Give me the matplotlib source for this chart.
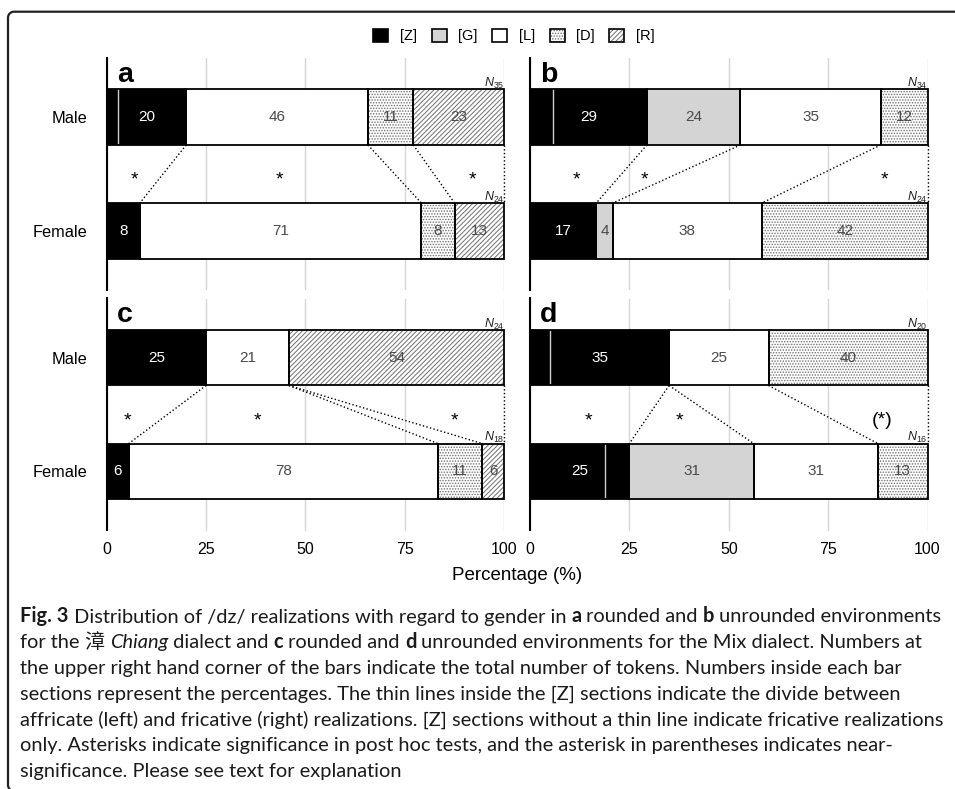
import numpy as np
import matplotlib
matplotlib.use("Agg")
import matplotlib.pyplot as plt
from matplotlib.patches import Patch
from matplotlib.lines import Line2D
from matplotlib.legend_handler import HandlerTuple
import matplotlib.transforms as mtrans

plt.rcParams['font.family'] = ['Liberation Sans', 'DejaVu Sans']
plt.rcParams['mathtext.fontset'] = 'custom'
plt.rcParams['mathtext.rm'] = 'Liberation Sans'
plt.rcParams['mathtext.it'] = 'Liberation Sans:italic'
plt.rcParams['hatch.linewidth'] = 0.7

# ---------------- data ----------------
categories = ["[Z]", "[G]", "[L]", "[D]", "[R]"]
groups = ["Male", "Female"]
panel_labels = ["a", "b", "c", "d"]

# token counts per category [Z, G, L, D, R]
a_male = [7, 0, 16, 4, 8]
a_female = [2, 0, 17, 2, 3]
b_male = [10, 8, 12, 4, 0]
b_female = [4, 1, 9, 10, 0]
c_male = [6, 0, 5, 0, 13]
c_female = [1, 0, 14, 2, 1]
d_male = [7, 0, 5, 8, 0]
d_female = [4, 5, 5, 2, 0]

# affricate tokens inside [Z] (0 = fricative only, no thin line)
affricate_male = [1, 2, 0, 1]
affricate_female = [0, 0, 0, 3]

# significance marks between the bars
sig_x = [[7, 43.5, 92], [11.6, 28.8, 89.1], [5.3, 38, 87.4], [14.8, 37.7, 88.6]]
sig_text = [["*", "*", "*"], ["*", "*", "*"], ["*", "*", "*"], ["*", "*", "(*)"]]

xticks = [0, 25, 50, 75, 100]

males = [a_male, b_male, c_male, d_male]
females = [a_female, b_female, c_female, d_female]

# ---------------- styles ----------------
face = ["black", "#d4d4d4", "white", "white", "white"]
hatches = [None, None, None, "......", "///////"]
hatch_col = "#707070"
txt_col = ["white", "#4a4a4a", "#4a4a4a", "#4a4a4a", "#4a4a4a"]

W, H = 955, 789
fig = plt.figure(figsize=(W / 100, H / 100), dpi=100)

def fx(px):
    return px / W

def fy(py):
    return 1 - py / H

ax_w = 397.5 / W
ax_h = 232 / H
lefts = [106.7, 530.0, 106.7, 530.0]
bottoms = [290.0, 290.0, 530.5, 530.5]

bar_h = 0.49
Y = {"Male": 1, "Female": 0}

for k in range(4):
    ax = fig.add_axes([fx(lefts[k]), fy(bottoms[k]), ax_w, ax_h])
    ax.set_xlim(0, 100)
    ax.set_ylim(-0.519, 1.519)
    ax.set_xticks(xticks)
    ax.grid(axis='x', color='#d6d6d6', lw=1.0)
    ax.set_axisbelow(True)
    for s in ['top', 'right', 'bottom']:
        ax.spines[s].set_visible(False)
    ax.spines['left'].set_linewidth(1.5)
    ax.spines['left'].set_color('black')
    ax.tick_params(axis='both', length=0, labelsize=11.5)
    ax.tick_params(axis='x', pad=8.4)
    ax.tick_params(axis='y', pad=14, labelsize=11.8)
    if k < 2:
        ax.set_xticklabels([])
    if k % 2 == 0:
        ax.set_yticks([Y[g] for g in groups], labels=groups)
    else:
        ax.set_yticks([Y[g] for g in groups], labels=[])

    cums = {}
    for g, counts, aff in (("Male", males[k], affricate_male[k]),
                           ("Female", females[k], affricate_female[k])):
        y = Y[g]
        N = sum(counts)
        left = 0.0
        cum = []
        for i, c in enumerate(counts):
            w = 100.0 * c / N
            if w > 0:
                if hatches[i]:
                    ax.barh(y, w, left=left, height=bar_h, color=face[i],
                            edgecolor=hatch_col, linewidth=0, hatch=hatches[i], zorder=2)
                else:
                    ax.barh(y, w, left=left, height=bar_h, color=face[i],
                            linewidth=0, zorder=2)
                ax.barh(y, w, left=left, height=bar_h, fill=False,
                        edgecolor='black', linewidth=1.3, zorder=4, clip_on=False)
                pct = int(np.floor(w + 0.5))
                ax.text(left + w / 2, y, str(pct), ha='center', va='center',
                        color=txt_col[i], fontsize=11, zorder=5)
            left += w
            cum.append(left)
        cums[g] = cum
        if aff > 0:
            xa = 100.0 * aff / N
            ax.plot([xa, xa], [y - bar_h / 2, y + bar_h / 2], color='#cfcfcf',
                    lw=1.0, zorder=3)
        ax.text(100, y + bar_h / 2 + 0.02, r"$N_{\mathrm{%d}}$" % N, ha='right',
                va='baseline', fontsize=9, color='#222222', zorder=5)

    done = set()
    for xm, xf in zip(cums["Male"], cums["Female"]):
        key = (round(xm, 3), round(xf, 3))
        if key in done:
            continue
        done.add(key)
        ax.plot([xm, xf], [1 - bar_h / 2, bar_h / 2], ls=':', color='black',
                lw=1.0, zorder=1.5, clip_on=False)

    for xs, st in zip(sig_x[k], sig_text[k]):
        ax.text(xs, 0.405, st, ha='center', va='baseline', fontsize=14, color='black')

    ax.text(2.6, 0.898, panel_labels[k], transform=mtrans.blended_transform_factory(ax.transData, ax.transAxes),
            ha='left', va='baseline', fontsize=20.5, fontweight='bold')

# x label
fig.text(fx((106.7 + 928) / 2), fy(576), "Percentage (%)", ha='center', va='center', fontsize=13.5)

# legend
handles = []
for i in range(5):
    if hatches[i]:
        hp = Patch(facecolor=face[i], edgecolor=hatch_col, linewidth=0, hatch=hatches[i])
        op = Patch(fill=False, edgecolor='black', linewidth=1.2)
        handles.append((hp, op))
    else:
        handles.append(Patch(facecolor=face[i], edgecolor='black', linewidth=1.2))
fig.legend(handles, categories, loc='center', bbox_to_anchor=(fx(514), fy(36)), ncol=5,
           frameon=False, handlelength=1.03, handleheight=1.0, handletextpad=0.8,
           columnspacing=1.0, fontsize=10.5, handler_map={tuple: HandlerTuple(ndivide=1, pad=0)})

# frame (top line + left line with rounded corners)
px2fig = mtrans.Affine2D().scale(1 / W, -1 / H).translate(0, 1) + fig.transFigure
r = 6.0
xl, yt, yb = 8.0, 11.7, 791.0
th1 = np.linspace(np.pi / 2, np.pi, 12)
th2 = np.linspace(np.pi, 1.5 * np.pi, 12)
xs = np.concatenate([[W + 5], xl + r + r * np.cos(th1), xl + r + r * np.cos(th2)])
ys = np.concatenate([[yt], yt + r - r * np.sin(th1), yb - r - r * np.sin(th2)])
fig.add_artist(Line2D(xs, ys, transform=px2fig, color='#222222', lw=1.6))

# caption
fig.canvas.draw()
renderer = fig.canvas.get_renderer()
cap_fam = ['Lato', 'Noto Sans CJK SC']
cap_size = 14.4

def run_width(s, **kw):
    t1 = fig.text(0, 0, "|" + s + "|", **kw)
    w1 = t1.get_window_extent(renderer).width
    t1.remove()
    t2 = fig.text(0, 0, "||", **kw)
    w2 = t2.get_window_extent(renderer).width
    t2.remove()
    return w1 - w2

N_ = {}
B = {'fontweight': 'bold'}
I = {'fontstyle': 'italic'}
C = {'family': ['Noto Sans CJK SC']}
caption = [
    [("Fig. 3", B), (" Distribution of /dz/ realizations with regard to gender in ", N_), ("a", B),
     (" rounded and ", N_), ("b", B), (" unrounded environments", N_)],
    [("for the ", N_), ("漳", C), (" ", N_), ("Chiang", I), (" dialect and ", N_), ("c", B),
     (" rounded and ", N_), ("d", B), (" unrounded environments for the Mix dialect. Numbers at", N_)],
    [("the upper right hand corner of the bars indicate the total number of tokens. Numbers inside each bar", N_)],
    [("sections represent the percentages. The thin lines inside the [Z] sections indicate the divide between", N_)],
    [("affricate (left) and fricative (right) realizations. [Z] sections without a thin line indicate fricative realizations", N_)],
    [("only. Asterisks indicate significance in post hoc tests, and the asterisk in parentheses indicates near-", N_)],
    [("significance. Please see text for explanation", N_)],
]
base0, step = 622.5, 25.8
for li, runs in enumerate(caption):
    x = 20.0
    yb_ = base0 + li * step
    for s, st in runs:
        kw = dict(fontsize=cap_size, color='#1a1a1a', family=cap_fam)
        kw.update(st)
        fig.text(fx(x), fy(yb_), s, ha='left', va='baseline', **kw)
        x += run_width(s, **kw)

fig.savefig("out.png", dpi=100)
